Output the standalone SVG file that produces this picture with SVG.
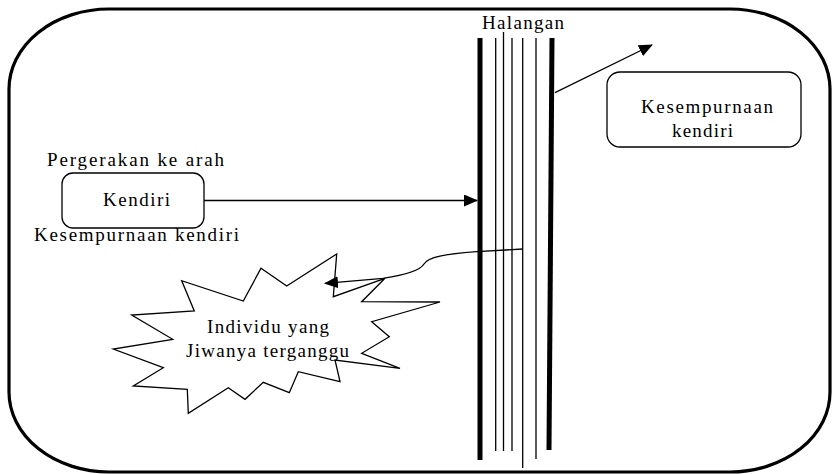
<svg xmlns="http://www.w3.org/2000/svg" width="832" height="474" viewBox="0 0 832 474" font-family="'Liberation Serif', 'Times New Roman', serif" font-size="19">
<style>
.t{font-family:"Liberation Serif","Times New Roman",serif;font-size:19px;fill:#000}
.box{fill:#fff;stroke:#000;stroke-width:1.3}
.thin{stroke:#000;stroke-width:1.3;fill:none}
.thick{stroke:#000;stroke-width:5;fill:none}
.con{stroke:#000;stroke-width:1.3;fill:none}
</style>
<defs>
<marker id="ah" viewBox="0 0 14 12" refX="13" refY="6" markerWidth="14" markerHeight="12" markerUnits="userSpaceOnUse" orient="auto">
<path d="M0,0 L14,6 L0,12 Z" fill="#000"/>
</marker>
</defs>
<rect id="frame" x="9" y="9" width="821" height="463" rx="100" ry="80" fill="#fff" stroke="#000" stroke-width="3.2"/>
<g id="barrier">
<line class="thick" x1="480" y1="38" x2="480" y2="460"/>
<line class="thin" x1="495.7" y1="38" x2="495.7" y2="451"/>
<line class="thin" x1="503.5" y1="32" x2="503.5" y2="451"/>
<line class="thin" x1="512" y1="38" x2="512" y2="451"/>
<line class="thin" x1="522.7" y1="38" x2="522.7" y2="468"/>
<line class="thin" x1="536" y1="38" x2="536" y2="459"/>
<line class="thick" x1="552" y1="38" x2="549" y2="450"/>
<text class="t" x="482" y="29" textLength="82" lengthAdjust="spacing">Halangan</text>
</g>
<g id="kendiri">
<text class="t" x="47" y="166" textLength="177" lengthAdjust="spacing">Pergerakan ke arah</text>
<rect class="box" x="62" y="173" width="142" height="55" rx="11"/>
<text class="t" x="103" y="206" textLength="67" lengthAdjust="spacing">Kendiri</text>
<text class="t" x="34" y="241" textLength="205" lengthAdjust="spacing">Kesempurnaan kendiri</text>
</g>
<g id="kesempurnaan">
<rect class="box" x="607" y="72" width="194" height="75" rx="13"/>
<text class="t" x="641" y="113" textLength="132" lengthAdjust="spacing">Kesempurnaan</text>
<text class="t" x="672" y="137" textLength="61" lengthAdjust="spacing">kendiri</text>
</g>
<g id="individu">
<polygon fill="#fff" stroke="#000" stroke-width="1.3" points="336.7,254 286.7,286 261,268.3 243.3,301 181.7,280.7 194.3,311 131.7,315 172.7,339.3 113.3,349 163.3,367.7 133.3,386 187.3,389.3 188.3,413.3 228.3,387.7 245,399.3 263.3,382.3 289.3,392.7 298.3,371.7 340,381.7 335,360 400,368.3 361.7,353.3 389.3,336.7 371.7,321.7 440,302 361.7,301.7 385,278.3 333.3,296.7"/>
<text class="t" x="207" y="333" textLength="122" lengthAdjust="spacing">Individu yang</text>
<text class="t" x="186" y="357" textLength="163" lengthAdjust="spacing">Jiwanya terganggu</text>
</g>
<g id="connectors">
<line class="con" x1="204" y1="200.5" x2="477" y2="200.5" marker-end="url(#ah)"/>
<line class="con" x1="555" y1="92.7" x2="652" y2="45" marker-end="url(#ah)"/>
<path class="con" d="M522.7,249 L476.7,251.7 C445,254 428,257 424,264 C420,271 405,275 383,278.3 L325,283.3" marker-end="url(#ah)"/>
</g>
</svg>
